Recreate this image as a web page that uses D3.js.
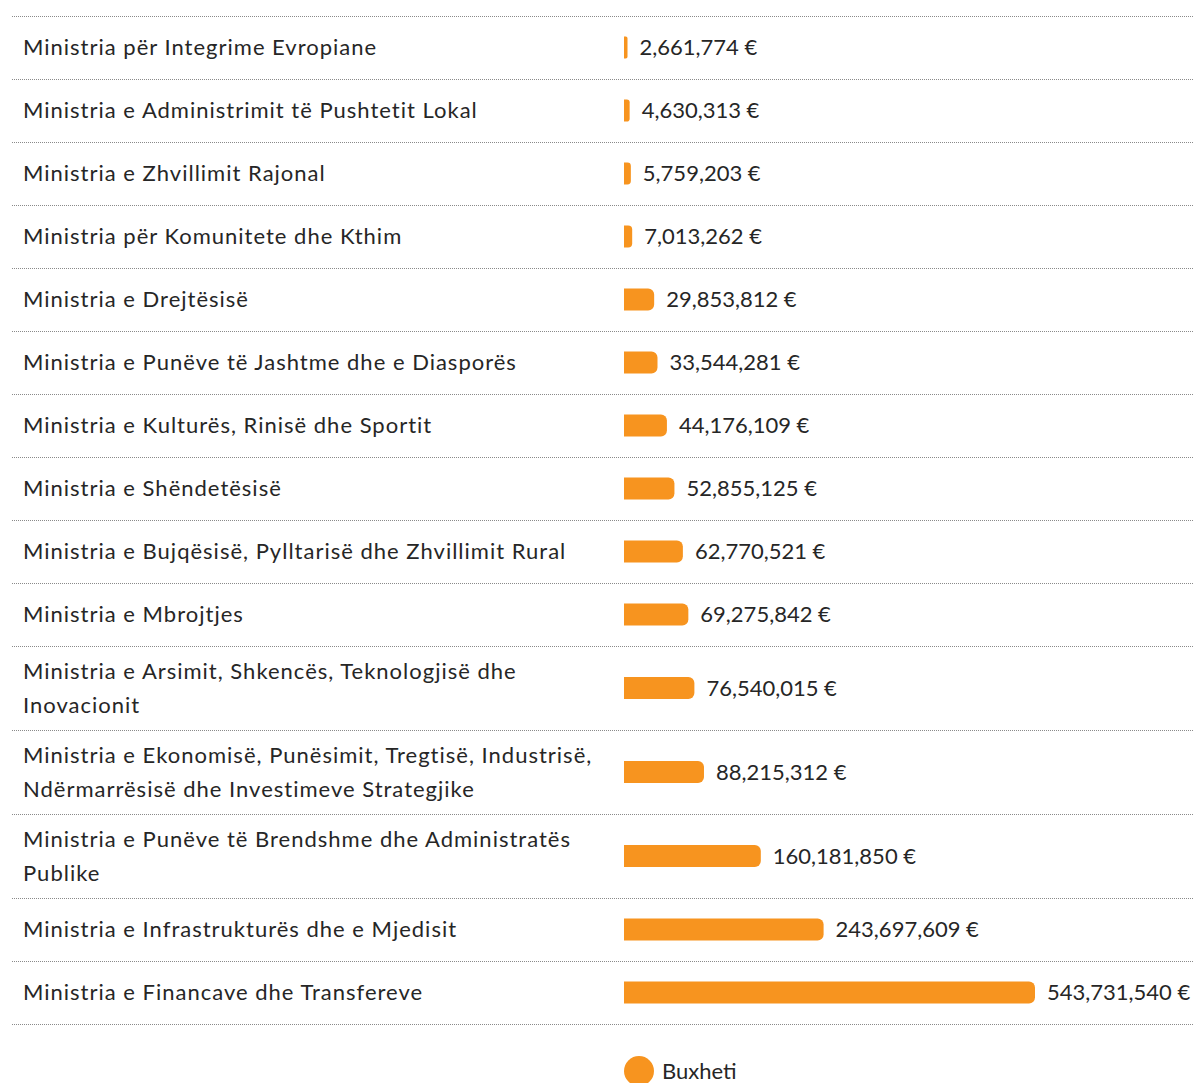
<!DOCTYPE html>
<html>
<head>
<meta charset="utf-8">
<script src="https://cdn.jsdelivr.net/npm/d3@7"></script>
<style>
  body { margin: 0; background: #fff; }
  text { font-family: Lato, "Noto Sans", sans-serif; fill: #262626; }
  .lbl { letter-spacing: 1px; }
</style>
</head>
<body>
<div id="chart"></div>
<script>
// ministries (line breaks kept as in the original)
const ministries = [
    "Ministria për Integrime Evropiane",
    "Ministria e Administrimit të Pushtetit Lokal",
    "Ministria e Zhvillimit Rajonal",
    "Ministria për Komunitete dhe Kthim",
    "Ministria e Drejtësisë",
    "Ministria e Punëve të Jashtme dhe e Diasporës",
    "Ministria e Kulturës, Rinisë dhe Sportit",
    "Ministria e Shëndetësisë",
    "Ministria e Bujqësisë, Pylltarisë dhe Zhvillimit Rural",
    "Ministria e Mbrojtjes",
    "Ministria e Arsimit, Shkencës, Teknologjisë dhe\nInovacionit",
    "Ministria e Ekonomisë, Punësimit, Tregtisë, Industrisë,\nNdërmarrësisë dhe Investimeve Strategjike",
    "Ministria e Punëve të Brendshme dhe Administratës\nPublike",
    "Ministria e Infrastrukturës dhe e Mjedisit",
    "Ministria e Financave dhe Transfereve"
];

const budget = [
    2661774, 4630313, 5759203, 7013262, 29853812, 33544281, 44176109,
    52855125, 62770521, 69275842, 76540015, 88215312, 160181850,
    243697609, 543731540
];

const legendLabel = "Buxheti";

const svgWidth = 1194;
const svgHeight = 1083;

const color = "#F7941F";
const rowH = 63;      // single-line row
const extraLine = 21; // added per extra text line
const lineGap = 34;
const top0 = 16;
const barX = 624;
const barH = 22;
const fontSize = 22;

const svg = d3.select("#chart")
    .append("svg")
    .attr("width", svgWidth)
    .attr("height", svgHeight);

// build rows with cumulative offsets
let y = top0;
const rows = ministries.map((m, i) => {
    const lines = m.split("\n");
    const h = rowH + extraLine * (lines.length - 1);
    const r = { lines, value: budget[i], y0: y, h };
    y += h;
    return r;
});
const bottomY = y;

// value scale (bars are slightly compressed for large values)
const xScale = d3.scalePow()
    .exponent(0.9)
    .domain([0, d3.max(budget)])
    .range([0, 411]);

const fmt = d3.format(",");

// separators
const seps = [top0].concat(rows.map(r => r.y0 + r.h));
svg.selectAll("line.sep")
    .data(seps)
    .join("line")
    .attr("class", "sep")
    .attr("x1", 12)
    .attr("x2", svgWidth)
    .attr("y1", d => d + 0.5)
    .attr("y2", d => d + 0.5)
    .attr("stroke", "#8a8a8a")
    .attr("stroke-width", 1)
    .attr("stroke-dasharray", "1,1");

const row = svg.selectAll("g.row")
    .data(rows)
    .join("g")
    .attr("class", "row")
    .attr("transform", d => `translate(0, ${d.y0 + d.h / 2})`);

// labels
row.each(function(d) {
    const n = d.lines.length;
    d3.select(this).selectAll("text.lbl")
        .data(d.lines)
        .join("text")
        .attr("class", "lbl")
        .attr("x", 23)
        .attr("y", (l, j) => (j - (n - 1) / 2) * lineGap)
        .attr("dy", "0.35em")
        .style("font-size", fontSize + "px")
        .text(l => l);
});

// bars with rounded right end
function barPath(w) {
    const r = Math.min(6, w / 2, barH / 2);
    return `M0,${-barH / 2}H${w - r}A${r},${r} 0 0 1 ${w},${-barH / 2 + r}` +
        `V${barH / 2 - r}A${r},${r} 0 0 1 ${w - r},${barH / 2}H0Z`;
}

row.append("path")
    .attr("transform", `translate(${barX}, 0)`)
    .attr("d", d => barPath(Math.max(3.5, xScale(d.value))))
    .attr("fill", color);

row.append("text")
    .attr("x", d => barX + Math.max(3.5, xScale(d.value)) + 12)
    .attr("y", 0)
    .attr("dy", "0.35em")
    .style("font-size", fontSize + "px")
    .text(d => fmt(d.value) + " €");

// legend
const legend = svg.append("g")
    .attr("transform", `translate(639, ${bottomY + 47})`);
legend.append("circle")
    .attr("r", 15)
    .attr("fill", color);
legend.append("text")
    .attr("x", 23)
    .attr("dy", "0.35em")
    .style("font-size", fontSize + "px")
    .text(legendLabel);
</script>
</body>
</html>
